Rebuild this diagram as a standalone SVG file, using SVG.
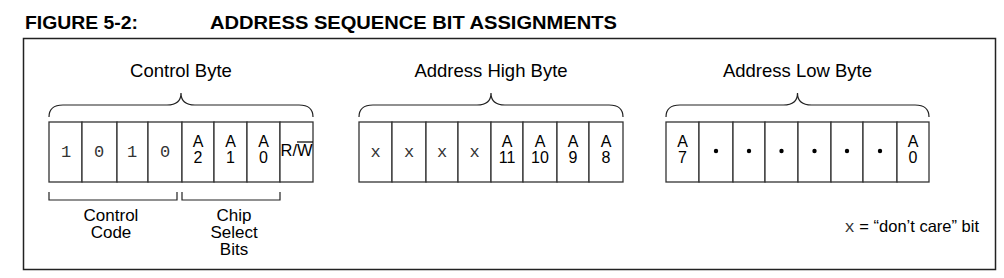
<svg xmlns="http://www.w3.org/2000/svg" width="1004" height="278" viewBox="0 0 1004 278">
<style>
.hdr{font-family:"Liberation Sans",Arial,sans-serif;font-weight:bold;font-size:18px;fill:#000}
.lbl{font-family:"Liberation Sans",Arial,sans-serif;font-size:18.5px;fill:#000}
.sub{font-family:"Liberation Sans",Arial,sans-serif;font-size:17px;fill:#000;text-anchor:middle}
.cell{fill:#fff;stroke:#333;stroke-width:1.3}
.brace{fill:none;stroke:#222;stroke-width:1.2}
.bit{font-family:"Liberation Sans",Arial,sans-serif;font-size:16px;fill:#000;text-anchor:middle}
.mono{font-family:"Liberation Mono","Courier New",monospace;font-size:17px;fill:#333;text-anchor:middle}
.dot{fill:#000}
</style>
<rect width="1004" height="278" fill="#fff"/>
<text class="hdr" x="25" y="29" textLength="113" lengthAdjust="spacingAndGlyphs">FIGURE 5-2:</text>
<text class="hdr" x="210" y="29" textLength="407" lengthAdjust="spacingAndGlyphs">ADDRESS SEQUENCE BIT ASSIGNMENTS</text>
<rect x="23.5" y="38.5" width="972" height="231" fill="none" stroke="#222" stroke-width="1.5"/>

<g id="control-byte">
<text class="lbl" x="181" y="77" text-anchor="middle">Control Byte</text>
<path class="brace" d="M49,117 Q49,105 63,105 L167,105 Q181,105 181,93 Q181,105 195,105 L299,105 Q313,105 313,117"/>
<rect class="cell" x="49" y="122" width="33" height="60"/>
<rect class="cell" x="82" y="122" width="35" height="60"/>
<rect class="cell" x="117" y="122" width="31" height="60"/>
<rect class="cell" x="148" y="122" width="34" height="60"/>
<rect class="cell" x="182" y="122" width="32" height="60"/>
<rect class="cell" x="214" y="122" width="33" height="60"/>
<rect class="cell" x="247" y="122" width="33" height="60"/>
<rect class="cell" x="280" y="122" width="33" height="60"/>
<text class="mono" x="66" y="157">1</text>
<text class="mono" x="99" y="157">0</text>
<text class="mono" x="132" y="157">1</text>
<text class="mono" x="165" y="157">0</text>
<text class="bit" x="198" y="147">A</text><text class="bit" x="198" y="163">2</text>
<text class="bit" x="230.5" y="147">A</text><text class="bit" x="230.5" y="163">1</text>
<text class="bit" x="263.5" y="147">A</text><text class="bit" x="263.5" y="163">0</text>
<text class="bit" x="296.5" y="156" textLength="32" lengthAdjust="spacingAndGlyphs">R/W</text>
<line x1="297" y1="142" x2="313" y2="142" stroke="#000" stroke-width="1.2"/>
</g>

<g id="control-code">
<path class="brace" d="M49,192 V200 H177 V192"/>
<text class="sub" x="111" y="221">Control</text>
<text class="sub" x="111" y="238">Code</text>
</g>

<g id="chip-select">
<path class="brace" d="M182,192 V200 H280 V192"/>
<text class="sub" x="234" y="221">Chip</text>
<text class="sub" x="234" y="238">Select</text>
<text class="sub" x="234" y="255">Bits</text>
</g>

<g id="address-high-byte">
<text class="lbl" x="491" y="77" text-anchor="middle">Address High Byte</text>
<path class="brace" d="M359,117 Q359,105 373,105 L477,105 Q491,105 491,93 Q491,105 505,105 L609,105 Q623,105 623,117"/>
<rect class="cell" x="359" y="122" width="33" height="60"/>
<rect class="cell" x="392" y="122" width="34" height="60"/>
<rect class="cell" x="426" y="122" width="32" height="60"/>
<rect class="cell" x="458" y="122" width="33" height="60"/>
<rect class="cell" x="491" y="122" width="32" height="60"/>
<rect class="cell" x="523" y="122" width="34" height="60"/>
<rect class="cell" x="557" y="122" width="32" height="60"/>
<rect class="cell" x="589" y="122" width="34" height="60"/>
<text class="mono" x="375.5" y="157">x</text>
<text class="mono" x="409" y="157">x</text>
<text class="mono" x="442" y="157">x</text>
<text class="mono" x="474.5" y="157">x</text>
<text class="bit" x="507" y="147">A</text><text class="bit" x="507" y="163">11</text>
<text class="bit" x="540" y="147">A</text><text class="bit" x="540" y="163">10</text>
<text class="bit" x="573" y="147">A</text><text class="bit" x="573" y="163">9</text>
<text class="bit" x="606" y="147">A</text><text class="bit" x="606" y="163">8</text>
</g>

<g id="address-low-byte">
<text class="lbl" x="797.5" y="77" text-anchor="middle">Address Low Byte</text>
<path class="brace" d="M666,117 Q666,105 680,105 L783.5,105 Q797.5,105 797.5,93 Q797.5,105 811.5,105 L915,105 Q929,105 929,117"/>
<rect class="cell" x="666" y="122" width="33" height="60"/>
<rect class="cell" x="699" y="122" width="34" height="60"/>
<rect class="cell" x="733" y="122" width="32" height="60"/>
<rect class="cell" x="765" y="122" width="33" height="60"/>
<rect class="cell" x="798" y="122" width="33" height="60"/>
<rect class="cell" x="831" y="122" width="32" height="60"/>
<rect class="cell" x="863" y="122" width="34" height="60"/>
<rect class="cell" x="897" y="122" width="32" height="60"/>
<text class="bit" x="682.5" y="147">A</text><text class="bit" x="682.5" y="163">7</text>
<circle class="dot" cx="716" cy="151" r="2.2"/>
<circle class="dot" cx="749" cy="151" r="2.2"/>
<circle class="dot" cx="781.5" cy="151" r="2.2"/>
<circle class="dot" cx="814.5" cy="151" r="2.2"/>
<circle class="dot" cx="847" cy="151" r="2.2"/>
<circle class="dot" cx="880" cy="151" r="2.2"/>
<text class="bit" x="913" y="147">A</text><text class="bit" x="913" y="163">0</text>
</g>

<g id="legend">
<text x="979" y="232" text-anchor="end" style="font-family:'Liberation Sans',Arial,sans-serif;font-size:16.5px;fill:#000"><tspan style="font-family:'Liberation Mono','Courier New',monospace;font-size:17px;fill:#333">x</tspan> = “don’t care” bit</text>
</g>
</svg>
